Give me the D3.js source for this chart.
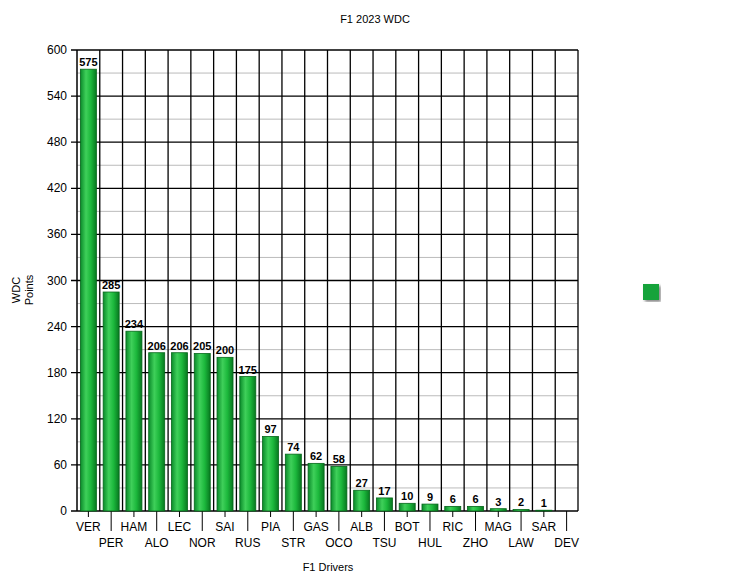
<!DOCTYPE html><html><head><meta charset="utf-8"><script src="https://cdn.jsdelivr.net/npm/d3@7"></script>
<style>body{margin:0;background:#fff}text{font-family:Arial,"Liberation Sans",sans-serif}</style></head><body>
<svg id="c" width="750" height="579"></svg>
<script>
const drivers=["VER","PER","HAM","ALO","LEC","NOR","SAI","RUS","PIA","STR","GAS","OCO","ALB","TSU","BOT","HUL","RIC","ZHO","MAG","LAW","SAR","DEV"];
const points=[575,285,234,206,206,205,200,175,97,74,62,58,27,17,10,9,6,6,3,2,1,0];
const yTicks=[0,60,120,180,240,300,360,420,480,540,600];
const svg=d3.select("#c");
const L=77,R=578,T=50,B=511;
const x=d3.scaleBand().domain(drivers).range([L,R]);
const y=d3.scaleLinear().domain([0,600]).range([B,T]);
const defs=svg.append("defs");
const g=defs.append("linearGradient").attr("id","gr");
[["0%","#0a8a2a"],["35%","#3fd05a"],["65%","#1cb83c"],["100%","#07781f"]].forEach(s=>g.append("stop").attr("offset",s[0]).attr("stop-color",s[1]));
const f=defs.append("filter").attr("id","sh");f.append("feDropShadow").attr("dx",2).attr("dy",2).attr("stdDeviation",1.5).attr("flood-color","#888");
d3.range(30,600,60).forEach(v=>svg.append("line").attr("x1",L).attr("x2",R).attr("y1",y(v)).attr("y2",y(v)).attr("stroke","#bbb"));
yTicks.forEach(v=>svg.append("line").attr("x1",L-6).attr("x2",R).attr("y1",y(v)).attr("y2",y(v)).attr("stroke","#000").attr("stroke-width",1.3));
drivers.forEach((d,i)=>svg.append("line").attr("x1",x(d)+x.bandwidth()).attr("x2",x(d)+x.bandwidth()).attr("y1",T).attr("y2",B).attr("stroke","#000").attr("stroke-width",1.3));
svg.append("line").attr("x1",L).attr("x2",L).attr("y1",T).attr("y2",B).attr("stroke","#000").attr("stroke-width",1.5);
yTicks.forEach(v=>svg.append("text").attr("x",L-10).attr("y",y(v)+4).attr("text-anchor","end").attr("font-size",12).text(v));
const bw=16;
drivers.forEach((d,i)=>{const cx=x(d)+x.bandwidth()/2;const v=points[i];
 svg.append("line").attr("x1",cx).attr("x2",cx).attr("y1",B).attr("y2",B+(i%2?20:6)).attr("stroke","#000");
 svg.append("text").attr("x",cx).attr("y",B+(i%2?36:20)).attr("text-anchor","middle").attr("font-size",12).text(d);
 if(v>0){svg.append("rect").attr("x",cx-bw/2).attr("y",y(v)).attr("width",bw).attr("height",B-y(v)).attr("fill","url(#gr)").attr("stroke","#05661a").attr("stroke-width",0.8);
 svg.append("text").attr("x",cx).attr("y",y(v)-3).attr("text-anchor","middle").attr("font-size",11).attr("font-weight","bold").text(v);}
});
svg.append("text").attr("x",375).attr("y",23).attr("text-anchor","middle").attr("font-size",11).text("F1 2023 WDC");
svg.append("text").attr("x",328).attr("y",571).attr("text-anchor","middle").attr("font-size",11).text("F1 Drivers");
const yl=svg.append("text").attr("transform","translate(20,290) rotate(-90)").attr("text-anchor","middle").attr("font-size",11);
yl.append("tspan").attr("x",0).attr("dy",0).text("WDC");yl.append("tspan").attr("x",0).attr("dy",13).text("Points");
svg.append("rect").attr("x",643).attr("y",284).attr("width",16).attr("height",16).attr("fill","#12a33a").attr("filter","url(#sh)");
</script></body></html>
